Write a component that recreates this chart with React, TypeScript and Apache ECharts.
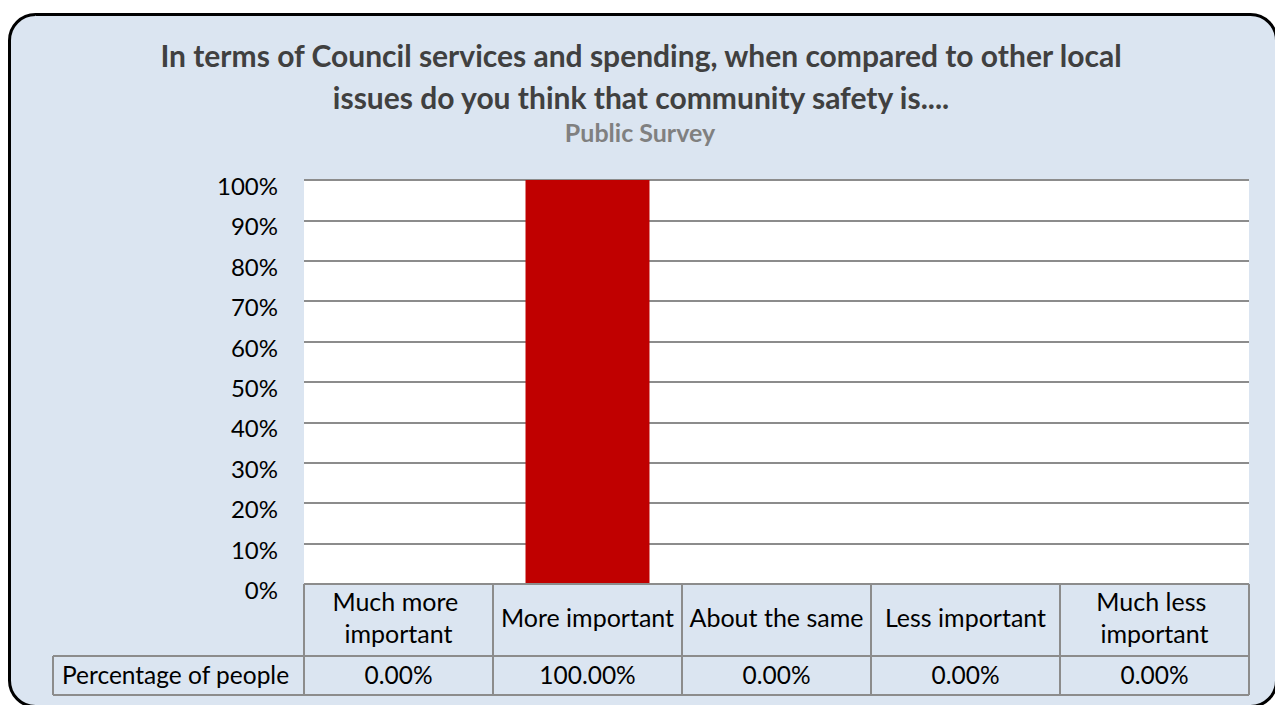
import React, { useEffect, useRef } from "react";
import * as echarts from "echarts";

const categories = ["Much more important", "More important", "About the same", "Less important", "Much less important"];
const values = [0, 1, 0, 0, 0];
const seriesName = "Percentage of people";
const titleLines = [
  "In terms of Council services and spending, when compared to other local",
  "issues do you think that community safety is....",
];
const subtitle = "Public Survey";

const W = 1275;
const H = 705;
const PL = 304; // plot left
const PR = 1249; // plot right
const PT = 180; // plot top
const PB = 584; // plot bottom
const ROW1 = 656;
const ROW2 = 695;
const TL = 53; // table left
const FONT = "Lato, 'Carlito', Calibri, sans-serif";
const LINE = "#8c8c8c";
const BG = "#dbe5f1";

export default function App() {
  const ref = useRef<HTMLDivElement>(null);
  useEffect(() => {
    if (!ref.current) return;
    const chart = echarts.init(ref.current, undefined, { renderer: "svg" });
    const colW = (PR - PL) / categories.length;
    const g: any[] = [];
    g.push({
      type: "rect",
      z: -10,
      shape: { x: 9.5, y: 14.5, width: 1267, height: 692, r: 26 },
      style: { fill: BG, stroke: "#000", lineWidth: 3 },
    });
    titleLines.forEach((t, i) => {
      g.push({
        type: "text",
        x: 641,
        y: 55 + i * 42,
        style: { text: t, fill: "#404040", font: `bold 30px ${FONT}`, align: "center", verticalAlign: "middle" },
      });
    });
    g.push({
      type: "text",
      x: 640,
      y: 132,
      style: { text: subtitle, fill: "#808080", font: `bold 25px ${FONT}`, align: "center", verticalAlign: "middle" },
    });
    // table lines
    const hl = (x1: number, x2: number, y: number) =>
      g.push({ type: "line", z: 10, shape: { x1, y1: y, x2, y2: y }, style: { stroke: LINE, lineWidth: 2 } });
    const vl = (x: number, y1: number, y2: number) =>
      g.push({ type: "line", z: 10, shape: { x1: x, y1, x2: x, y2 }, style: { stroke: LINE, lineWidth: 2 } });
    hl(PL, PR, PB);
    hl(TL, PR, ROW1);
    hl(TL, PR, ROW2);
    vl(TL, ROW1, ROW2);
    for (let i = 0; i <= categories.length; i++) vl(PL + i * colW, PB, ROW2);
    g.push({
      type: "text",
      x: TL + 9,
      y: 674,
      style: { text: seriesName, fill: "#000", font: `24.5px ${FONT}`, align: "left", verticalAlign: "middle" },
    });
    values.forEach((v, i) => {
      g.push({
        type: "text",
        x: PL + colW * (i + 0.5),
        y: 674,
        style: { text: (v * 100).toFixed(2) + "%", fill: "#000", font: `24.5px ${FONT}`, align: "center", verticalAlign: "middle" },
      });
    });

    chart.setOption({
      animation: false,
      backgroundColor: "#fff",
      grid: {
        left: PL,
        right: W - PR,
        top: PT,
        bottom: H - PB,
        show: true,
        backgroundColor: "#fff",
        borderWidth: 0,
      },
      xAxis: {
        type: "category",
        data: categories,
        axisLine: { show: false },
        axisTick: { show: false },
        axisLabel: {
          interval: 0,
          margin: 33,
          verticalAlign: "middle",
          fontFamily: FONT,
          fontSize: 25,
          lineHeight: 32,
          color: "#000",
          width: 182,
          overflow: "break",
        },
      },
      yAxis: {
        type: "value",
        min: 0,
        max: 1,
        interval: 0.1,
        axisLine: { show: false },
        axisTick: { show: false },
        splitLine: { lineStyle: { color: LINE, width: 2 } },
        axisLabel: {
          margin: 26,
          fontFamily: FONT,
          fontSize: 24,
          color: "#000",
          verticalAlign: "top",
          lineHeight: 11,
          formatter: (v: number) => Math.round(v * 100) + "%",
        },
      },
      series: [
        {
          type: "bar",
          name: seriesName,
          data: values,
          barWidth: "65.6%",
          itemStyle: { color: "#c00000" },
        },
      ],
      graphic: g,
    });
    return () => chart.dispose();
  }, []);
  return <div ref={ref} style={{ position: "fixed", left: 0, top: 0, width: W, height: H }} />;
}
